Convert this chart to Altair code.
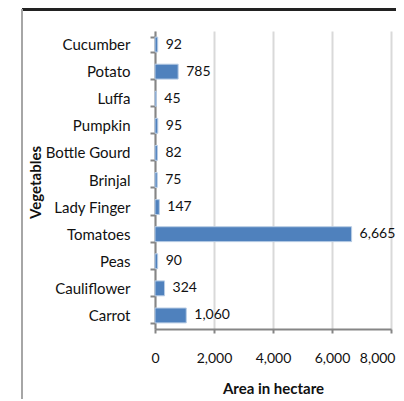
import altair as alt
import pandas as pd

vegetables = ["Cucumber", "Potato", "Luffa", "Pumpkin", "Bottle Gourd", "Brinjal",
              "Lady Finger", "Tomatoes", "Peas", "Cauliflower", "Carrot"]
area = [92, 785, 45, 95, 82, 75, 147, 6665, 90, 324, 1060]
x_ticks = [0, 2000, 4000, 6000, 8000]

df = pd.DataFrame({"Vegetables": vegetables, "Area": area})

FONT = "Lato"
TXT = "#111111"

y_enc = alt.Y("Vegetables:N", sort=vegetables,
              scale=alt.Scale(paddingInner=0.45, paddingOuter=0.225),
              axis=alt.Axis(title="Vegetables", tickBand="extent", tickSize=5,
                            tickColor="#868686", tickWidth=2,
                            domainColor="#868686", domainWidth=2,
                            labelPadding=20, labelFontSize=15, labelColor=TXT,
                            labelFont=FONT, titleFont=FONT, titleFontSize=15,
                            titleFontWeight="bold", titleColor=TXT,
                            titleAngle=270, titleX=-120, titleY=151,
                            titleBaseline="middle", titleAlign="center"))

x_enc = alt.X("Area:Q", scale=alt.Scale(domain=[0, 8000], nice=False),
              axis=alt.Axis(title="Area in hectare", values=x_ticks, format=",.0f",
                            tickSize=4, tickColor="#868686", tickWidth=2,
                            domainColor="#868686", domainWidth=2,
                            grid=True, gridColor="#d9d9d9", gridWidth=2,
                            labelPadding=18, labelFontSize=14, labelColor=TXT,
                            labelFont=FONT, labelOverlap=False,
                            labelFlush=True, labelFlushOffset=4,
                            titleFont=FONT, titleFontSize=15,
                            titleFontWeight="bold", titleColor=TXT,
                            titlePadding=16))

bars = alt.Chart(df).mark_bar(color="#4F81BD", stroke="#b9cde5", strokeWidth=1).encode(
    x=x_enc, y=y_enc)

labels = alt.Chart(df).mark_text(align="left", dx=8, font=FONT, fontSize=14,
                                 color=TXT, baseline="middle").encode(
    x="Area:Q", y=alt.Y("Vegetables:N", sort=vegetables),
    text=alt.Text("Area:Q", format=",.0f"))

frame_top = alt.Chart(df).mark_rule(color="#222222", strokeWidth=3).encode(
    x=alt.value(-133), x2=alt.value(260), y=alt.value(-22))
frame_left = alt.Chart(df).mark_rule(color="#a6a6a6", strokeWidth=2).encode(
    x=alt.value(-133), y=alt.value(-22), y2=alt.value(380))

chart = alt.layer(bars, labels, frame_top, frame_left).properties(
    width=236, height=298,
    autosize=alt.AutoSizeParams(type="none"),
    padding={"left": 147, "top": 23, "right": 5, "bottom": 70},
).configure_view(stroke=None)

chart.save("out.html", embed_options={"renderer": "svg", "actions": False})
